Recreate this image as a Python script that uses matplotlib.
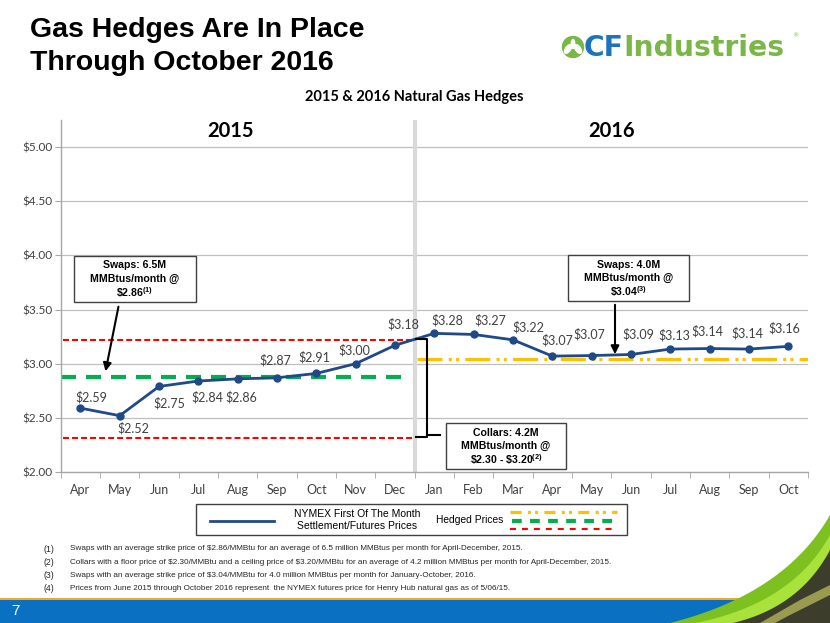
import numpy as np
import matplotlib
matplotlib.use("Agg")
import matplotlib.pyplot as plt
from matplotlib.patches import Polygon, Rectangle, Circle, Ellipse

plt.rcParams['lines.scale_dashes'] = False

months = ["Apr", "May", "Jun", "Jul", "Aug", "Sep", "Oct", "Nov", "Dec",
          "Jan", "Feb", "Mar", "Apr", "May", "Jun", "Jul", "Aug", "Sep", "Oct"]
prices = [2.59, 2.52, 2.79, 2.84, 2.86, 2.87, 2.91, 3.00, 3.17,
          3.28, 3.27, 3.22, 3.07, 3.075, 3.085, 3.135, 3.14, 3.135, 3.16]
price_labels = ["$2.59", "$2.52", "$2.75", "$2.84", "$2.86", "$2.87", "$2.91", "$3.00", "$3.18",
                "$3.28", "$3.27", "$3.22", "$3.07", "$3.07", "$3.09", "$3.13", "$3.14", "$3.14", "$3.16"]
swap_2015 = 2.875
collar_floor = 2.31
collar_ceiling = 3.22
swap_2016 = 3.045
yticks = [2.00, 2.50, 3.00, 3.50, 4.00, 4.50, 5.00]

footnotes = [
    ("(1)", "Swaps with an average strike price of \\$2.86/MMBtu for an average of 6.5 million MMBtus per month for April-December, 2015."),
    ("(2)", "Collars with a floor price of \\$2.30/MMBtu and a ceiling price of \\$3.20/MMBtu for an average of 4.2 million MMBtus per month for April-December, 2015."),
    ("(3)", "Swaps with an average strike price of \\$3.04/MMBtu for 4.0 million MMBtus per month for January-October, 2016."),
    ("(4)", "Prices from June 2015 through October 2016 represent  the NYMEX futures price for Henry Hub natural gas as of 5/06/15."),
]

# label offsets in pixels (dx, dy)
label_offsets = [(11, 11), (14, -13), (10, -17), (9, -16), (4, -18), (-2, 18), (-2, 16), (-1, 13), (8, 21),
                 (13, 13), (17, 14), (15, 13), (5, 16), (-2, 21), (7, 20), (4, 14), (-2, 17), (-2, 16), (-4, 18)]

W, H = 830, 623
fig = plt.figure(figsize=(W / 100, H / 100), dpi=100)
fig.patch.set_facecolor("white")

# background layer in pixel coords
bg = fig.add_axes([0, 0, 1, 1], zorder=0)
bg.set_xlim(0, W)
bg.set_ylim(H, 0)
bg.axis("off")

# main chart
ax = fig.add_axes([60.7 / W, 1 - 472 / H, (808 - 60.7) / W, (472 - 120) / H], zorder=2)
ax.set_facecolor("none")
x = np.arange(len(months))
ax.set_xlim(-0.5, len(months) - 0.5)
ax.set_ylim(2.0, 5.25)
ax.set_yticks(yticks)
ax.set_yticklabels(["$%.2f" % v for v in yticks])
ax.set_xticks(x)
ax.set_xticklabels(months)
ax.set_xticks(np.arange(-0.5, len(months)), minor=True)
ax.tick_params(axis="x", which="major", length=0, pad=9, labelsize=9, labelcolor="#404040")
ax.tick_params(axis="x", which="minor", length=4, color="#a6a6a6", direction="out")
ax.tick_params(axis="y", length=4, color="#a6a6a6", pad=2, labelsize=8.5, labelcolor="#404040")
for lab in ax.get_xticklabels() + ax.get_yticklabels():
    lab.set_family(["Lato", "DejaVu Sans"])
for s in ["top", "right"]:
    ax.spines[s].set_visible(False)
for s in ["left", "bottom"]:
    ax.spines[s].set_color("#a6a6a6")
    ax.spines[s].set_linewidth(1)
for v in yticks[1:]:
    ax.axhline(v, color="#bfbfbf", lw=0.9, zorder=0)

ax.axvline(8.5, color="#d9d9d9", lw=3, zorder=1)

# hedge lines
ax.plot([-0.45, 8.47], [collar_ceiling] * 2, color="#ff0000", lw=1.5, ls=(0, (4.3, 2.2)), zorder=2)
ax.plot([-0.45, 8.47], [collar_floor] * 2, color="#ff0000", lw=1.5, ls=(0, (4.3, 2.2)), zorder=2)
ax.plot([-0.5, 8.2], [swap_2015] * 2, color="#00b050", lw=3, ls=(0, (10.8, 7.2)), zorder=2)
ax.plot([8.55, 18.5], [swap_2016] * 2, color="#ffc000", lw=2.3,
        ls=(0, (18, 4.5, 2.2, 3, 2.2, 4.5)), zorder=2)

# price line
ax.plot(x, prices, color="#1f4a87", lw=2, marker="o", ms=5, zorder=4)
for xi, yi, lab, off in zip(x, prices, price_labels, label_offsets):
    ax.annotate(lab, (xi, yi), xytext=off, textcoords="offset pixels", ha="center", va="center",
                fontsize=9, color="#404040", family=["Lato", "DejaVu Sans"], zorder=5)

# overlay for annotations
ov = fig.add_axes([0, 0, 1, 1], zorder=5)
ov.set_xlim(0, W)
ov.set_ylim(H, 0)
ov.axis("off")
ov.set_facecolor("none")

plt.rcParams['mathtext.fontset'] = 'custom'
plt.rcParams['mathtext.rm'] = 'Liberation Sans:bold'
plt.rcParams['mathtext.bf'] = 'Liberation Sans:bold'

def box(x0, y0, x1, y1, lines):
    ov.add_patch(Rectangle((x0, y0), x1 - x0, y1 - y0, fc="white", ec="#404040", lw=1, zorder=3))
    cx = (x0 + x1) / 2
    n = len(lines)
    step = 13.5
    for i, ln in enumerate(lines):
        cy = (y0 + y1) / 2 + (i - (n - 1) / 2) * step
        ov.text(cx, cy, ln, ha="center", va="center", fontsize=7.6, fontweight="bold",
                family="Liberation Sans", zorder=4)

box(74, 256, 196, 302, ["Swaps: 6.5M", "MMBtus/month @", r"\$2.86$^{(1)}$"])
box(568, 255, 689, 301, ["Swaps: 4.0M", "MMBtus/month @", r"\$3.04$^{(3)}$"])
box(446, 423, 566, 469, ["Collars: 4.2M", "MMBtus/month @", r"\$2.30 - \$3.20$^{(2)}$"])

ov.annotate("", xy=(105, 374), xytext=(119, 304),
            arrowprops=dict(arrowstyle="-|>", color="black", lw=1.5, mutation_scale=12))
ov.annotate("", xy=(615, 357), xytext=(615, 302),
            arrowprops=dict(arrowstyle="-|>", color="black", lw=1.5, mutation_scale=12))
ov.plot([416, 427, 427, 416], [339, 339, 437, 437], color="black", lw=1.5)
ov.plot([427, 440], [435, 435], color="black", lw=1.5)

# titles
bg.text(30, 30, "Gas Hedges Are In Place", ha="left", va="center", fontsize=20.5,
        fontweight="bold", family="Liberation Sans")
bg.text(30, 63, "Through October 2016", ha="left", va="center", fontsize=20.5,
        fontweight="bold", family="Liberation Sans")
bg.text(414, 97, "2015 & 2016 Natural Gas Hedges", ha="center", va="center", fontsize=10.5,
        fontweight="bold", family=["Lato", "DejaVu Sans"])
bg.text(230, 131, "2015", ha="center", va="center", fontsize=14.5, fontweight="bold",
        family=["Lato", "DejaVu Sans"])
bg.text(612, 131, "2016", ha="center", va="center", fontsize=14.5, fontweight="bold",
        family=["Lato", "DejaVu Sans"])

# logo
bg.add_patch(Circle((573, 47), 10.5, color="#7ab648"))
bg.add_patch(Ellipse((568, 49), 5, 10, angle=35, color="white"))
bg.add_patch(Ellipse((578, 49), 5, 10, angle=-35, color="white"))
bg.add_patch(Ellipse((573, 44), 3.5, 9, color="white"))
t_cf = bg.text(584, 48, "CF", ha="left", va="center", fontsize=20.3, fontweight="bold",
               color="#1c75bc", family="DejaVu Sans")
fig.canvas.draw()
bb = t_cf.get_window_extent()
x_end = bg.transData.inverted().transform((bb.x1, 0))[0]
bg.text(x_end - 1, 48, "Industries", ha="left", va="center", fontsize=20.3, fontweight="bold",
        color="#7ab648", family="DejaVu Sans")
bg.text(795, 36, "\u00ae", ha="center", va="center", fontsize=4.5, color="#7ab648")

# legend
bg.add_patch(Rectangle((196, 504), 431, 31, fc="white", ec="#404040", lw=1))
bg.plot([210, 274], [521, 521], color="#1f4a87", lw=2)
bg.text(357, 520, "NYMEX First Of The Month\nSettlement/Futures Prices", ha="center", va="center",
        fontsize=7.5, family="Liberation Sans", linespacing=1.35)
bg.text(470, 520, "Hedged Prices", ha="center", va="center", fontsize=7.4, family="Liberation Sans")
bg.plot([510, 617], [511.5, 511.5], color="#ffc000", lw=2.3, ls=(0, (8, 4.5, 2.2, 3, 2.2, 4.5)))
bg.plot([512, 617], [520.5, 520.5], color="#00b050", lw=3, ls=(0, (7, 6)))
bg.plot([510, 617], [528.5, 528.5], color="#ff0000", lw=1.5, ls=(0, (4.3, 4.3)))

# footnotes
for i, (num, txt) in enumerate(footnotes):
    y = 549 + i * 13.3
    bg.text(43, y, num, ha="left", va="center", fontsize=6.3,
            family="Liberation Sans", color="#262626")
    bg.text(70, y, txt, ha="left", va="center", fontsize=5.9,
            family="Liberation Sans", color="#262626")

# bottom bar
bg.add_patch(Rectangle((0, 598), W, 3, color="#f5a623", lw=0))
bg.add_patch(Rectangle((0, 600), W, 23, color="#0a70c2", lw=0))
bg.text(11, 611, "7", ha="left", va="center", fontsize=11, color="white", family="Liberation Sans")

def bez(p0, p1, p2, n=40):
    t = np.linspace(0, 1, n)[:, None]
    return (1 - t) ** 2 * np.array(p0) + 2 * (1 - t) * t * np.array(p1) + t ** 2 * np.array(p2)

ca = bez((670, 623), (785, 594), (830, 515))
cb = bez((695, 623), (792, 604), (830, 535))
cc = bez((733, 623), (800, 607), (830, 550))
bg.add_patch(Polygon(np.vstack([ca, [[830, 623]]]), closed=True, color="#7cc11f", lw=0))
bg.add_patch(Polygon(np.vstack([cb, [[830, 623]]]), closed=True, color="#a8e23a", lw=0))
bg.add_patch(Polygon(np.vstack([cc, [[830, 623]]]), closed=True, color="#3d3d2c", lw=0))
bg.add_patch(Polygon([[760, 623], [800, 600], [830, 585], [830, 595], [790, 615], [775, 623]],
                     closed=True, color="#9a9a50", lw=0))

fig.savefig("out.png", dpi=100)
